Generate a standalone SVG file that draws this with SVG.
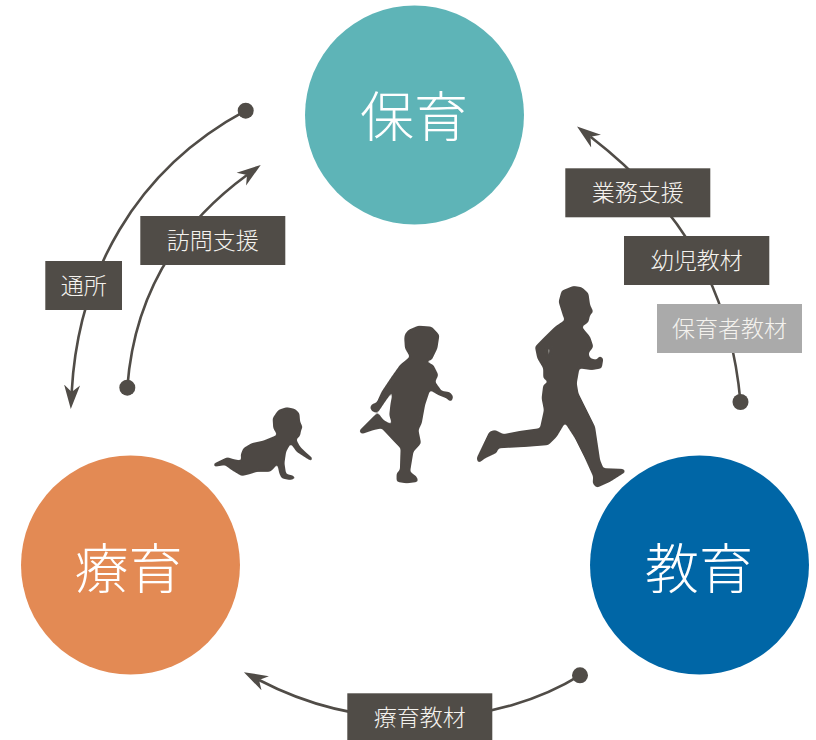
<svg xmlns="http://www.w3.org/2000/svg" width="816" height="740" viewBox="0 0 816 740">
<style>
.circle-label{font-family:"Noto Sans CJK JP","Noto Sans CJK SC",sans-serif;font-size:54px;font-weight:300;fill:#fff;text-anchor:middle}
.box-label{font-family:"Noto Sans CJK JP","Noto Sans CJK SC",sans-serif;font-size:23px;font-weight:300;fill:#f4f2ee;text-anchor:middle}
.box{fill:#504c47}
.box-light{fill:#aaaaaa}
.conn{fill:none;stroke:#504c47;stroke-width:2.6}
.dot{fill:#504c47}
.child{fill:#4d4844;fill-rule:evenodd;filter:url(#soft)}
</style>
<defs>
<marker id="arrow" markerUnits="userSpaceOnUse" markerWidth="26" markerHeight="20" viewBox="0 0 26 20" refX="7" refY="10" orient="auto">
<path d="M0,2 L24,10 L0,18 L7,10 Z" fill="#504c47"/>
</marker>
<filter id="soft" x="-10%" y="-10%" width="120%" height="120%" color-interpolation-filters="sRGB">
<feGaussianBlur stdDeviation="4.500"/>
<feComponentTransfer><feFuncA type="linear" slope="4" intercept="-1.400"/></feComponentTransfer>
</filter>
</defs>
<rect width="816" height="740" fill="#fff"/>
<g id="connectors">
<path class="conn" marker-end="url(#arrow)" d="M740.5 402C733 320 705 225 590.500 136.800"/>
<circle class="dot" cx="740.5" cy="402" r="8"/>
<path class="conn" marker-end="url(#arrow)" d="M245.7 110.7C135 170 78 275 71.7 392"/>
<circle class="dot" cx="245.7" cy="110.7" r="8"/>
<path class="conn" marker-end="url(#arrow)" d="M127.3 387.7C133 310 165 235 247 175"/>
<circle class="dot" cx="127.3" cy="387.7" r="8"/>
<path class="conn" marker-end="url(#arrow)" d="M580 675.3C500 725 370 738 259 680"/>
<circle class="dot" cx="580" cy="675.3" r="8"/>
</g>
<g id="node-hoiku"><circle cx="414.5" cy="115" r="109.5" fill="#5eb4b7"/><text class="circle-label" x="414" y="137">保育</text></g>
<g id="node-ryoiku"><circle cx="130.5" cy="565" r="109.5" fill="#e38a54"/><text class="circle-label" x="128.500" y="589">療育</text></g>
<g id="node-kyoiku"><circle cx="699.5" cy="565" r="109.5" fill="#0066a6"/><text class="circle-label" x="699" y="589">教育</text></g>
<g id="label-gyomu"><rect class="box" x="565.300" y="168.300" width="145" height="49"/><text class="box-label" x="637.800" y="201">業務支援</text></g>
<g id="label-yoji"><rect class="box" x="624" y="236" width="145.300" height="49"/><text class="box-label" x="696.700" y="269">幼児教材</text></g>
<g id="label-hoikusha"><rect class="box-light" x="657" y="304" width="145" height="49"/><text class="box-label" x="729.500" y="337">保育者教材</text></g>
<g id="label-homon"><rect class="box" x="140.300" y="216" width="145" height="49"/><text class="box-label" x="212.800" y="249">訪問支援</text></g>
<g id="label-tsusho"><rect class="box" x="45.300" y="261" width="76.700" height="49"/><text class="box-label" x="83.700" y="294">通所</text></g>
<g id="label-ryoiku-kyozai"><rect class="box" x="347.300" y="693.300" width="145" height="47"/><text class="box-label" x="419.800" y="726">療育教材</text></g>
<g id="child-baby" transform="translate(200,270) scale(.33333)"><path class="child" d="M260,412L235,420 218,445 220,475 232,495 190,512 155,520 130,535 122,555 125,572 100,568 82,562 60,572 40,582 42,590 75,585 95,600 125,618 150,612 170,605 210,605 222,595 232,580 238,610 245,625 270,630 288,625 280,617 258,612 253,580 258,545 272,520 290,545 320,565 335,574 338,565 320,550 300,530 288,508 300,498 303,480 308,472 300,455 298,430 285,417Z"/></g>
<g id="child-toddler" transform="translate(350,315) scale(.33333)"><path class="child" d="M175,45L165,58 163,70 165,100 180,125 150,150 125,185 95,230 80,263 65,268 60,280 70,292 85,290 105,260 130,225 122,265 118,300 127,330 100,315 85,295 75,300 27,348 35,357 70,345 95,340 125,372 152,400 150,465 140,475 140,500 170,505 205,500 200,485 180,470 190,410 213,385 205,345 215,325 225,270 240,225 265,240 290,250 303,262 310,245 300,232 275,228 255,200 265,180 250,150 225,138 245,135 262,100 268,60 245,35 205,32Z"/></g>
<g id="child-runner" transform="translate(460,270) scale(.33333)"><path class="child" d="M340,48L305,62 296,95 310,140 315,150 285,170 250,205 225,230 232,265 250,295 250,325 265,335 250,345 245,385 252,420 240,475 180,483 130,493 105,480 88,485 50,565 55,580 75,565 110,548 115,535 200,530 265,525 290,500 315,458 345,505 375,565 400,620 398,640 410,653 450,635 497,605 490,597 430,595 420,570 405,470 380,420 355,370 350,340 358,295 395,300 425,295 430,265 418,258 410,270 390,265 385,250 400,230 390,200 365,170 385,157 390,135 400,125 390,105 385,70 365,52ZM263,235L270,232 268,265 264,262Z"/></g>
</svg>
